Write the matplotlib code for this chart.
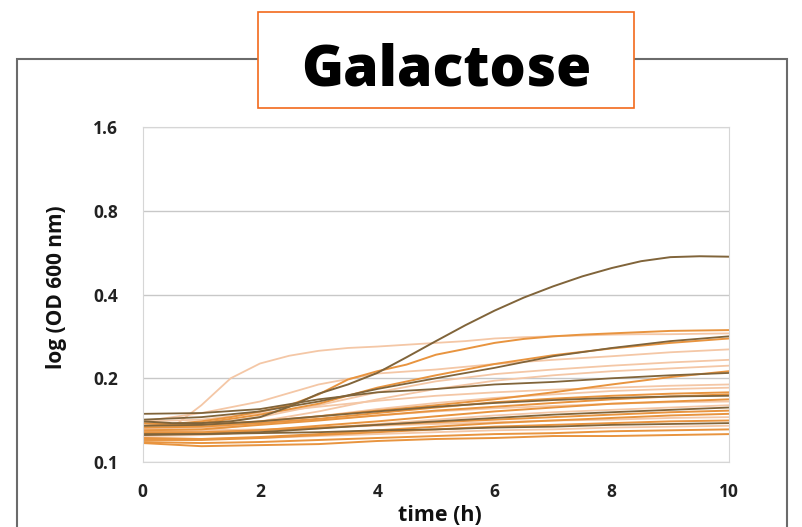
import numpy as np
import matplotlib
matplotlib.use("Agg")
import matplotlib.pyplot as plt
from matplotlib.patches import Rectangle

plt.rcParams['font.family'] = ['Open Sans', 'DejaVu Sans']

# time grids (h)
t_half = np.arange(0, 10.5, 0.5)
t_hour = np.arange(0, 11, 1)

# OD600 curves sampled every 0.5 h
big_dark = [0.140, 0.138, 0.138, 0.140, 0.145, 0.158, 0.176, 0.190, 0.209, 0.238, 0.272,
            0.310, 0.350, 0.390, 0.428, 0.465, 0.498, 0.527, 0.545, 0.549, 0.547]
big_orange = [0.138, 0.137, 0.140, 0.145, 0.152, 0.160, 0.175, 0.198, 0.212, 0.224, 0.243,
              0.255, 0.268, 0.277, 0.283, 0.287, 0.290, 0.293, 0.296, 0.297, 0.298]
early_light = [0.130, 0.133, 0.160, 0.200, 0.226, 0.241, 0.251, 0.257, 0.260, 0.264, 0.268,
               0.272, 0.278, 0.281, 0.283, 0.285, 0.287, 0.288, 0.288, 0.289, 0.290]

# OD600 curves sampled every hour
dark_curves = [
    [0.142, 0.145, 0.152, 0.165, 0.183, 0.200, 0.218, 0.240, 0.257, 0.272, 0.283],
    [0.149, 0.150, 0.155, 0.168, 0.178, 0.183, 0.190, 0.194, 0.200, 0.205, 0.209],
    [0.135, 0.136, 0.140, 0.146, 0.152, 0.158, 0.163, 0.167, 0.170, 0.172, 0.173],
    [0.125, 0.126, 0.128, 0.132, 0.136, 0.140, 0.144, 0.148, 0.151, 0.154, 0.157],
    [0.126, 0.126, 0.127, 0.128, 0.130, 0.131, 0.133, 0.134, 0.136, 0.137, 0.138],
]
orange_curves = [
    [0.135, 0.138, 0.148, 0.162, 0.185, 0.205, 0.225, 0.242, 0.256, 0.268, 0.278],
    [0.135, 0.136, 0.140, 0.146, 0.153, 0.160, 0.168, 0.178, 0.190, 0.202, 0.212],
    [0.130, 0.131, 0.136, 0.141, 0.147, 0.153, 0.158, 0.163, 0.168, 0.172, 0.175],
    [0.127, 0.127, 0.130, 0.135, 0.140, 0.146, 0.152, 0.157, 0.162, 0.165, 0.168],
    [0.133, 0.134, 0.138, 0.143, 0.150, 0.157, 0.164, 0.169, 0.173, 0.176, 0.178],
    [0.128, 0.128, 0.130, 0.133, 0.136, 0.139, 0.142, 0.145, 0.148, 0.151, 0.153],
    [0.122, 0.121, 0.123, 0.126, 0.130, 0.134, 0.138, 0.141, 0.144, 0.147, 0.149],
    [0.120, 0.120, 0.122, 0.125, 0.128, 0.131, 0.134, 0.136, 0.138, 0.140, 0.141],
    [0.118, 0.117, 0.118, 0.120, 0.122, 0.124, 0.126, 0.127, 0.129, 0.130, 0.131],
    [0.117, 0.114, 0.115, 0.116, 0.119, 0.121, 0.122, 0.124, 0.124, 0.125, 0.126],
]
light_curves = [
    [0.140, 0.150, 0.165, 0.190, 0.208, 0.215, 0.225, 0.233, 0.240, 0.248, 0.254],
    [0.132, 0.136, 0.145, 0.160, 0.178, 0.195, 0.207, 0.215, 0.222, 0.228, 0.233],
    [0.128, 0.130, 0.140, 0.152, 0.168, 0.183, 0.196, 0.205, 0.212, 0.217, 0.222],
    [0.128, 0.130, 0.137, 0.146, 0.155, 0.163, 0.170, 0.175, 0.180, 0.183, 0.185],
    [0.140, 0.142, 0.150, 0.158, 0.166, 0.173, 0.178, 0.182, 0.185, 0.188, 0.190],
    [0.130, 0.130, 0.131, 0.133, 0.135, 0.137, 0.139, 0.141, 0.142, 0.144, 0.145],
    [0.124, 0.125, 0.128, 0.132, 0.137, 0.142, 0.147, 0.151, 0.154, 0.157, 0.160],
    [0.132, 0.133, 0.137, 0.142, 0.147, 0.152, 0.156, 0.159, 0.162, 0.164, 0.165],
    [0.122, 0.121, 0.122, 0.124, 0.126, 0.128, 0.130, 0.131, 0.133, 0.134, 0.135],
]

y_ticks = [0.1, 0.2, 0.4, 0.8, 1.6]
y_labels = ["0.1", "0.2", "0.4", "0.8", "1.6"]
x_ticks = [0, 2, 4, 6, 8, 10]

DARK = "#80643a"
ORANGE = "#e8943f"
LIGHT = "#f4c7a6"

fig = plt.figure(figsize=(8.02, 5.27), dpi=100)

# outer frame and title box
fig.patches.append(Rectangle((0.0212, -0.2), 0.96, 1.088, transform=fig.transFigure,
                             fill=False, edgecolor="#6b6b6b", linewidth=1.5))
fig.patches.append(Rectangle((0.3217, 0.795), 0.4688, 0.182, transform=fig.transFigure,
                             facecolor="white", edgecolor="#f26a1b", linewidth=1.2, zorder=5))
fig.text(0.556, 0.838, "Galactose", ha="center", va="baseline", fontsize=41,
         fontweight="heavy", color="black", zorder=6)

ax = fig.add_axes([0.178, 0.1233, 0.731, 0.6357])

for ys in light_curves:
    ax.plot(t_hour, ys, color=LIGHT, lw=1.3)
ax.plot(t_half, early_light, color=LIGHT, lw=1.3)
for ys in orange_curves:
    ax.plot(t_hour, ys, color=ORANGE, lw=1.4)
ax.plot(t_half, big_orange, color=ORANGE, lw=1.4)
for ys in dark_curves:
    ax.plot(t_hour, ys, color=DARK, lw=1.3)
ax.plot(t_half, big_dark, color=DARK, lw=1.4)

ax.set_yscale("log", base=2)
ax.set_ylim(0.1, 1.6)
ax.set_xlim(0, 10)
ax.set_yticks(y_ticks)
ax.set_yticklabels(y_labels)
ax.minorticks_off()
ax.set_xticks(x_ticks)
ax.grid(axis="y", color="#c8c8c8", lw=1)
ax.set_axisbelow(True)
for s in ax.spines.values():
    s.set_color("#d6d6d6")
ax.tick_params(length=0, labelsize=12.5, colors="#222222")
ax.tick_params(axis="y", pad=18)
ax.tick_params(axis="x", pad=15)
for lab in ax.get_xticklabels() + ax.get_yticklabels():
    lab.set_fontweight("bold")

fig.text(0.071, 0.455, "log (OD 600 nm)", rotation=90, ha="center", va="center",
         fontsize=15, fontweight="bold", color="#111111")
fig.text(0.549, 0.012, "time (h)", ha="center", va="baseline",
         fontsize=15.5, fontweight="bold", color="#111111")

fig.savefig("out.png", dpi=100)
